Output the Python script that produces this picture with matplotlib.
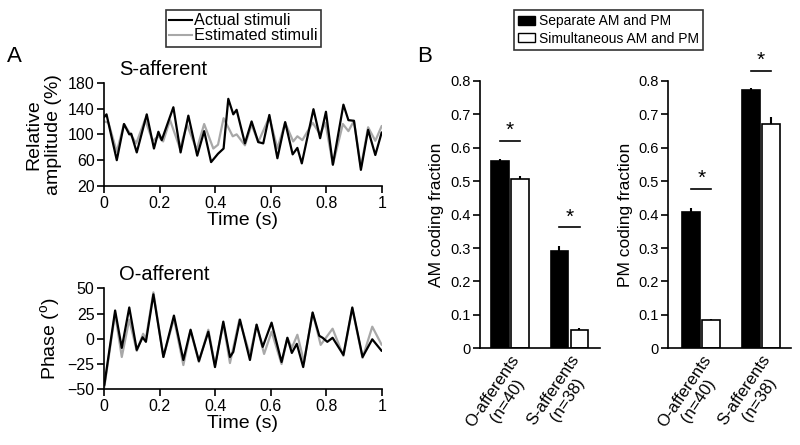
import numpy as np
import matplotlib
matplotlib.use('Agg')
import matplotlib.pyplot as plt
from matplotlib.patches import Patch
from matplotlib.lines import Line2D

plt.rcParams['font.family'] = ['Liberation Sans', 'DejaVu Sans']
plt.rcParams['axes.linewidth'] = 1.2
plt.rcParams['xtick.major.width'] = 1.2
plt.rcParams['ytick.major.width'] = 1.2
plt.rcParams['xtick.direction'] = 'out'
plt.rcParams['ytick.direction'] = 'out'

## panel A data
t_s_actual = [0, 0.008, 0.045, 0.071, 0.09, 0.097, 0.117, 0.153, 0.179, 0.195, 0.207, 0.249, 0.275,
              0.303, 0.335, 0.36, 0.385, 0.41, 0.43, 0.447, 0.465, 0.477, 0.507, 0.531, 0.555, 0.573,
              0.595, 0.624, 0.652, 0.679, 0.696, 0.712, 0.754, 0.778, 0.799, 0.824, 0.862, 0.88, 0.9,
              0.925, 0.951, 0.977, 1.0]
s_actual = [127, 131, 60, 116, 100, 101, 72, 131, 78, 104, 91, 142, 72, 129, 67, 105, 57, 70, 78, 155,
            131, 138, 86, 120, 88, 86, 130, 63, 119, 69, 79, 55, 139, 94, 135, 53, 146, 122, 121, 45,
            107, 68, 103]
t_s_est = [0, 0.015, 0.045, 0.071, 0.099, 0.115, 0.147, 0.174, 0.195, 0.212, 0.237, 0.273, 0.298,
           0.333, 0.36, 0.393, 0.41, 0.43, 0.463, 0.477, 0.507, 0.531, 0.555, 0.595, 0.624, 0.652,
           0.681, 0.696, 0.714, 0.751, 0.778, 0.797, 0.824, 0.86, 0.88, 0.9, 0.925, 0.951, 0.977, 1.0]
s_est = [120, 118, 73, 116, 97, 86, 123, 90, 97, 89, 122, 78, 115, 76, 116, 78, 84, 125, 97, 100, 83,
         115, 88, 127, 78, 118, 89, 97, 91, 118, 100, 118, 53, 116, 105, 121, 49, 111, 90, 113]

t_o_actual = [0, 0.039, 0.063, 0.09, 0.117, 0.138, 0.15, 0.177, 0.213, 0.251, 0.285, 0.311, 0.341,
              0.375, 0.399, 0.429, 0.453, 0.465, 0.489, 0.525, 0.549, 0.571, 0.603, 0.639, 0.66,
              0.676, 0.694, 0.717, 0.751, 0.775, 0.787, 0.804, 0.823, 0.862, 0.894, 0.931, 0.966, 1.0]
o_actual = [-46, 28, -9, 31, -11, 1.5, -3, 44, -18, 23, -21, 9, -22, 7, -28, 17, -18, -13, 19, -21,
            14, -8, 16, -23, 1, -14, -5, -28, 26, 3, 1, -3, 1, -16, 31, -18, -0.5, -12]
t_o_est = [0, 0.039, 0.063, 0.09, 0.117, 0.14, 0.15, 0.177, 0.213, 0.251, 0.285, 0.311, 0.341, 0.375,
           0.399, 0.429, 0.453, 0.487, 0.525, 0.549, 0.576, 0.603, 0.639, 0.66, 0.676, 0.696, 0.72,
           0.751, 0.78, 0.823, 0.862, 0.894, 0.931, 0.966, 1.0]
o_est = [-48, 25, -18, 19, -12, 5, 0, 46, -18, 20, -26, 8, -23, 9, -26, 15, -24, 19, -16, 14, -15, 7,
         -25, 1, -9, 4, -23, 26, -6, 10, -17, 30, -19, 12, -6]

## panel B data
groups = ['O-afferents\n(n=40)', 'S-afferents\n(n=38)']
am_separate = [0.560, 0.292]
am_separate_err = [0.007, 0.015]
am_simult = [0.508, 0.055]
am_simult_err = [0.008, 0.006]
pm_separate = [0.408, 0.772]
pm_separate_err = [0.013, 0.006]
pm_simult = [0.085, 0.672]
pm_simult_err = [0.003, 0.020]
am_sig_y = [0.621, 0.362]
pm_sig_y = [0.477, 0.831]

W, H = 800, 445
fig = plt.figure(figsize=(8, 4.45), dpi=100)

def px_axes(x0, y0, x1, y1):
    # axes from pixel box (top-left origin)
    return fig.add_axes([x0 / W, 1 - y1 / H, (x1 - x0) / W, (y1 - y0) / H])

gray = '#a8a8a8'
line_kw = dict(lw=1.6, solid_joinstyle='round', solid_capstyle='round')

## A: S-afferent
ax1 = px_axes(104.3, 82.7, 381.7, 186)
ax1.plot(t_s_est, s_est, color=gray, **line_kw)
ax1.plot(t_s_actual, s_actual, color='k', **line_kw)
ax1.set_xlim(0, 1)
ax1.set_ylim(20, 180)
ax1.set_yticks([20, 60, 100, 140, 180])
ax1.set_ylabel('Relative\namplitude (%)', fontsize=14, labelpad=4)

## A: O-afferent
ax2 = px_axes(104.3, 288.3, 381.7, 389.3)
ax2.plot(t_o_est, o_est, color=gray, **line_kw)
ax2.plot(t_o_actual, o_actual, color='k', **line_kw)
ax2.set_xlim(0, 1)
ax2.set_ylim(-50, 50)
ax2.set_yticks([-50, -25, 0, 25, 50])
ax2.set_ylabel(r'Phase ($\mathregular{^o}$)', fontsize=14, labelpad=4)

for ax in (ax1, ax2):
    for s in ['top', 'right']:
        ax.spines[s].set_visible(False)
    ax.set_xticks([0, 0.2, 0.4, 0.6, 0.8, 1])
    ax.set_xticklabels(['0', '0.2', '0.4', '0.6', '0.8', '1'])
    ax.tick_params(labelsize=11.5, length=5, pad=2)
    ax.set_xlabel('Time (s)', fontsize=14, labelpad=1)

fig.text(119 / W, 1 - 69 / H, 'S-afferent', fontsize=14.5, va='center', ha='left')
fig.text(119 / W, 1 - 275 / H, 'O-afferent', fontsize=14.5, va='center', ha='left')
fig.text(7 / W, 1 - 56 / H, 'A', fontsize=16, va='center', ha='left')
fig.text(417 / W, 1 - 56 / H, 'B', fontsize=16, va='center', ha='left')

line_handles = [Line2D([], [], color='k', lw=1.5), Line2D([], [], color=gray, lw=1.5)]
leg1 = fig.legend(line_handles, ['Actual stimuli', 'Estimated stimuli'],
                  loc='upper left', bbox_to_anchor=(166 / W, 1 - 10 / H), fontsize=11.7,
                  frameon=True, fancybox=False, edgecolor='k', handlelength=1.4,
                  handletextpad=0.1, labelspacing=0.0, borderpad=0.2, borderaxespad=0)
leg1.get_frame().set_linewidth(1.2)

## B: bar charts
def bar_panel(ax, sep, sep_err, sim, sim_err, sig_y, ylabel, xlim):
    x = np.arange(len(groups))
    off, bw = 0.168, 0.3
    ax.bar(x - off, sep, bw, color='k', edgecolor='k', lw=1.2)
    ax.bar(x + off, sim, bw, color='w', edgecolor='k', lw=1.2)
    ax.errorbar(x - off, sep, yerr=[np.zeros(len(sep)), sep_err], fmt='none',
                ecolor='k', elinewidth=1.5, capsize=0)
    ax.errorbar(x + off, sim, yerr=[np.zeros(len(sim)), sim_err], fmt='none',
                ecolor='k', elinewidth=1.5, capsize=0)
    for xi, yi in zip(x, sig_y):
        ax.plot([xi - 0.17, xi + 0.17], [yi, yi], color='k', lw=1.2, clip_on=False)
        ax.text(xi, yi + 0.002, '*', fontsize=15, ha='center', va='bottom', clip_on=False)
    ax.set_xlim(*xlim)
    ax.set_ylim(0, 0.8)
    ax.set_yticks([0, 0.1, 0.2, 0.3, 0.4, 0.5, 0.6, 0.7, 0.8])
    ax.set_yticklabels(['0', '0.1', '0.2', '0.3', '0.4', '0.5', '0.6', '0.7', '0.8'])
    ax.set_xticks(x)
    ax.set_xticklabels(groups, rotation=56, ha='right', rotation_mode='anchor',
                       multialignment='center', fontsize=12, linespacing=1.2)
    ax.tick_params(axis='x', length=0, pad=3)
    ax.tick_params(axis='y', labelsize=10.5, length=5, pad=2)
    for s in ['top', 'right']:
        ax.spines[s].set_visible(False)
    ax.set_ylabel(ylabel, fontsize=12.5, labelpad=4)

ax3 = px_axes(480, 81, 600, 348.3)
bar_panel(ax3, am_separate, am_separate_err, am_simult, am_simult_err, am_sig_y,
          'AM coding fraction', (-0.504, 1.513))
ax4 = px_axes(668.3, 81, 790.7, 348.3)
bar_panel(ax4, pm_separate, pm_separate_err, pm_simult, pm_simult_err, pm_sig_y,
          'PM coding fraction', (-0.553, 1.497))

bar_handles = [Patch(facecolor='k', edgecolor='k'), Patch(facecolor='w', edgecolor='k')]
leg2 = fig.legend(bar_handles, ['Separate AM and PM', 'Simultaneous AM and PM'],
                  loc='upper left', bbox_to_anchor=(514 / W, 1 - 10 / H), fontsize=10,
                  frameon=True, fancybox=False, edgecolor='k', handlelength=1.2,
                  handleheight=0.6, handletextpad=0.3, labelspacing=0.25, borderpad=0.3,
                  borderaxespad=0)
leg2.get_frame().set_linewidth(1.2)

plt.savefig('out.png', dpi=100)
